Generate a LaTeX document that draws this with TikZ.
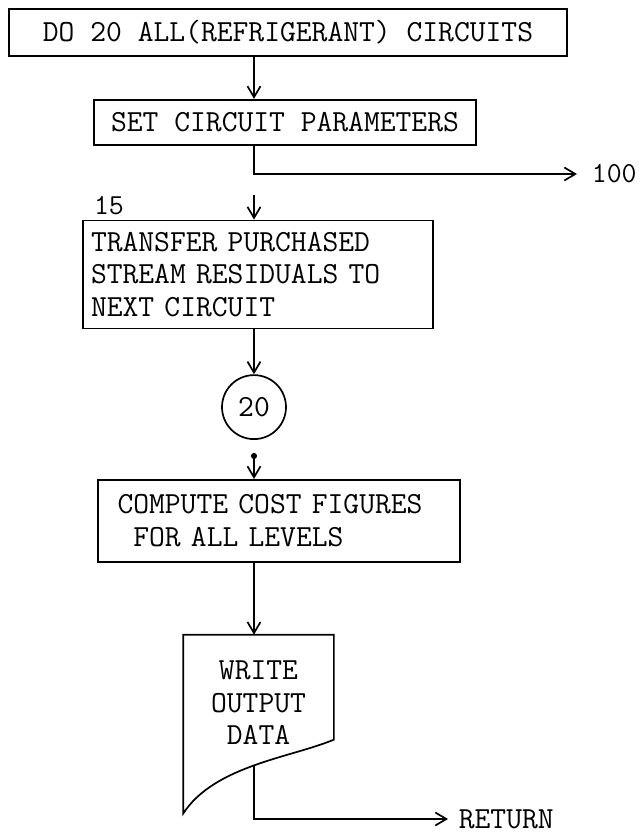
\documentclass[tikz,border=0pt]{standalone}
\usepackage{tikz}
\usetikzlibrary{positioning,arrows.meta}
\newcommand{\flowfont}{\ttfamily\fontsize{30.7}{32.5}\selectfont}
\newcommand{\tagfont}{\ttfamily\fontsize{29}{31}\selectfont}

\begin{document}
\begin{tikzpicture}[x=1pt, y=-1pt,
      line width=1.7pt,
      box/.style={draw, align=center, font=\flowfont},
      conn/.style={circle, draw, minimum size=64pt, inner sep=0pt, font=\flowfont},
      lbl/.style={font=\tagfont, inner sep=0pt},
      >={Straight Barb[length=11pt, width=13pt]}]
    \useasboundingbox (0,0) rectangle (640,838);
    \node[box, minimum width=558pt, minimum height=47pt] (loop) at (288,32.5)
      {DO 20 ALL(REFRIGERANT) CIRCUITS};
    \node[box, below=42pt of loop, xshift=-3pt, minimum width=382pt, minimum height=45pt] (setpar)
      {SET CIRCUIT PARAMETERS};
    \node[box, below=74pt of setpar, xshift=-27pt, align=left, text width=334pt,
          inner xsep=8pt, minimum height=108pt] (transfer)
      {TRANSFER PURCHASED\\ STREAM RESIDUALS TO\\ NEXT CIRCUIT};
    \node[conn, below=45pt of transfer, xshift=-4pt] (c20) {20};
    \node[box, below=39pt of c20, xshift=25pt, align=left, text width=323pt,
          minimum width=362pt, minimum height=82pt] (cost)
      {COMPUTE COST FIGURES\\ \hphantom{X}FOR ALL LEVELS};
    \node[box, draw=none, below=72pt of cost, xshift=-20.5pt, minimum width=149pt,
          minimum height=135pt] (doc) {WRITE\\ OUTPUT\\ DATA};
    \node[lbl, anchor=south west] (tag15) at ([xshift=11pt, yshift=4pt]transfer.north west) {15};
    \node[lbl, anchor=west, inner xsep=14pt] (out100) at (577,174) {100};
    \node[lbl, anchor=west, inner xsep=10pt, font=\flowfont] (ret) at (448,819) {RETURN};
    % document outline
    \draw (doc.north west) -- (doc.north east) -- ([yshift=-105pt]doc.north east)
      .. controls +(-43pt,-18pt) and +(31pt,48pt) .. ([yshift=-179pt]doc.north west)
      coordinate[pos=0.5] (docout) -- cycle;
    \path (transfer.north -| c20) ++(0,25pt) coordinate (in15);
    \path (c20.south) ++(0,-13pt) coordinate (dot20);
    \draw[->] (loop.south -| c20) -- (setpar.north -| c20);
    \draw[->] (setpar.south -| c20) |- (out100.west);
    \draw[->] (in15) -- (transfer.north -| c20);
    \draw[->] (transfer.south -| c20) -- (c20);
    \draw[{Circle[length=6pt]}->] (dot20) -- (cost.north -| c20);
    \draw[->] (cost.south -| c20) -- (doc.north -| c20);
    \draw[->] (docout) |- (ret.west);
  \end{tikzpicture}
\end{document}
